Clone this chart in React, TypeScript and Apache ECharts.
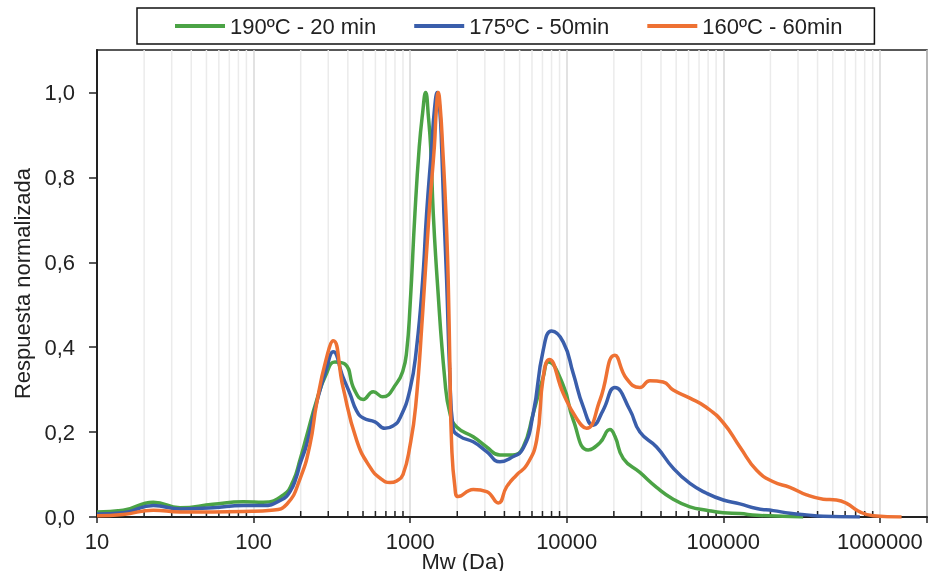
import React, { useEffect, useRef } from "react";
import * as echarts from "echarts";

const seriesNames = ["190ºC - 20 min", "175ºC - 50min", "160ºC - 60min"];
const seriesColors = ["#4ba345", "#3a5eab", "#ee7133"];

const greenMw = [10, 14.7, 22.9, 33.9, 55, 86, 115, 155, 179, 198, 218, 253, 290, 331, 384, 440, 502, 581, 667, 820, 900, 950, 1000, 1073, 1143, 1200, 1256, 1310, 1352, 1405, 1489, 1667, 1795, 1981, 2529, 3081, 3744, 4530, 5272, 6109, 7079, 7621, 9506, 11010, 13710, 16290, 18880, 20320, 22960, 29330, 37490, 47860, 61220, 78180, 100000, 127700, 163300, 323800];
const greenVal = [0.012, 0.016, 0.035, 0.022, 0.03, 0.036, 0.035, 0.052, 0.085, 0.135, 0.19, 0.275, 0.335, 0.365, 0.36, 0.3, 0.277, 0.295, 0.283, 0.315, 0.345, 0.39, 0.5, 0.715, 0.871, 0.95, 1.0, 0.94, 0.871, 0.715, 0.558, 0.322, 0.244, 0.212, 0.189, 0.165, 0.146, 0.146, 0.165, 0.244, 0.33, 0.365, 0.31, 0.228, 0.158, 0.175, 0.206, 0.19, 0.138, 0.105, 0.07, 0.042, 0.024, 0.016, 0.01, 0.008, 0.004, 0];

const blueMw = [10, 14.7, 22.9, 33.9, 55, 86, 115, 150, 171, 188, 198, 218, 253, 290, 323, 372, 413, 455, 502, 596, 690, 780, 861, 997, 1100, 1202, 1274, 1372, 1430, 1490, 1545, 1589, 1643, 1710, 1790, 1880, 2080, 2529, 3081, 3744, 4335, 5272, 6109, 7079, 8013, 9506, 11010, 12740, 14760, 17100, 20320, 25330, 29330, 37490, 47860, 61220, 78180, 100000, 127700, 163300, 208500, 266300, 340400, 434700, 745000];
const blueVal = [0.007, 0.01, 0.027, 0.019, 0.022, 0.027, 0.027, 0.04, 0.06, 0.095, 0.125, 0.17, 0.27, 0.345, 0.389, 0.33, 0.29, 0.25, 0.233, 0.224, 0.209, 0.215, 0.233, 0.3, 0.4, 0.558, 0.715, 0.871, 0.96, 1.0, 0.96, 0.871, 0.715, 0.558, 0.34, 0.21, 0.19, 0.177, 0.154, 0.13, 0.138, 0.162, 0.244, 0.393, 0.438, 0.412, 0.338, 0.26, 0.216, 0.252, 0.305, 0.252, 0.2, 0.165, 0.115, 0.079, 0.056, 0.04, 0.031, 0.02, 0.015, 0.009, 0.005, 0.002, 0];

const orangeMw = [10, 14.7, 22.9, 33.9, 55, 86, 130, 163, 198, 229, 253, 290, 323, 372, 455, 553, 650, 743, 820, 900, 1000, 1084, 1202, 1324, 1427, 1470, 1512, 1560, 1613, 1693, 1750, 1795, 1841, 1932, 2028, 2529, 3081, 3654, 4130, 4786, 5546, 6426, 7079, 7727, 9506, 11560, 13390, 16290, 20320, 24110, 29330, 33960, 41320, 47860, 61220, 78180, 100000, 127700, 163300, 208500, 266300, 340400, 434700, 528000, 613000, 745000, 906000, 1376000];
const orangeVal = [0.003, 0.006, 0.016, 0.012, 0.012, 0.013, 0.016, 0.03, 0.09, 0.17, 0.268, 0.37, 0.415, 0.307, 0.181, 0.118, 0.09, 0.081, 0.085, 0.1, 0.17, 0.26, 0.48, 0.72, 0.871, 0.96, 1.0, 0.96, 0.871, 0.715, 0.558, 0.35, 0.17, 0.07, 0.048, 0.065, 0.06, 0.033, 0.071, 0.099, 0.122, 0.181, 0.33, 0.371, 0.291, 0.232, 0.209, 0.275, 0.381, 0.326, 0.305, 0.321, 0.318, 0.299, 0.28, 0.258, 0.222, 0.165, 0.11, 0.083, 0.07, 0.052, 0.042, 0.04, 0.032, 0.012, 0.003, 0];

const yTickValues = [0, 0.2, 0.4, 0.6, 0.8, 1.0];
const decades = [10, 100, 1000, 10000, 100000];
const minorMultipliers = [2, 3, 4, 5, 6, 7, 8, 9];

const FONT = "'Liberation Sans', Arial, Helvetica, sans-serif";

function zip(xs: number[], ys: number[]) {
  return xs.map((x, i) => [x, ys[i]]);
}

export default function App() {
  const ref = useRef<HTMLDivElement>(null);
  useEffect(() => {
    if (!ref.current) return;
    const chart = echarts.init(ref.current, null, { renderer: "svg" });
    const minorValues: number[] = [];
    decades.forEach((d) => minorMultipliers.forEach((m) => minorValues.push(d * m)));
    const lineData = [zip(greenMw, greenVal), zip(blueMw, blueVal), zip(orangeMw, orangeVal)];

    const option: any = {
      animation: false,
      textStyle: { fontFamily: FONT },
      grid: {
        left: 97,
        right: 2,
        top: 50,
        bottom: 54,
        show: true,
        outerBoundsMode: "none",
        containLabel: false,
        borderColor: "#222",
        borderWidth: 1.5,
        backgroundColor: "transparent",
      },
      legend: {
        data: seriesNames.map((n) => ({ name: n, icon: "rect" })),
        left: 137,
        top: 8,
        padding: [7, 32, 7, 38],
        itemGap: 38,
        itemWidth: 50,
        itemHeight: 4,
        borderColor: "#111",
        borderWidth: 1.5,
        textStyle: { fontSize: 22, color: "#222", fontFamily: FONT, padding: [0, 0, 0, 0] },
      },
      xAxis: {
        type: "log",
        logBase: 10,
        min: 10,
        max: 2000000,
        name: "Mw (Da)",
        nameLocation: "middle",
        nameGap: 33,
        nameMoveOverlap: false,
        nameTextStyle: { fontSize: 22, color: "#222", fontFamily: FONT, padding: [0, 98, 0, 0], verticalAlign: "top" },
        axisLine: { show: true, lineStyle: { color: "#222", width: 2 } },
        axisTick: { show: true, length: 6, lineStyle: { color: "#222", width: 1.5 } },
        axisLabel: {
          fontSize: 22,
          color: "#222",
          margin: 13,
          fontFamily: FONT,
          formatter: (v: number) => (v > 1500000 ? "" : String(Math.round(v))),
        },
        splitLine: { show: true, lineStyle: { color: "#d9d9d9", width: 1.5 } },
      },
      yAxis: {
        type: "value",
        min: 0,
        max: 1.1,
        interval: 0.2,
        name: "Respuesta normalizada",
        nameLocation: "middle",
        nameGap: 64,
        nameTextStyle: { fontSize: 22, color: "#222", fontFamily: FONT },
        axisLine: { show: true, lineStyle: { color: "#222", width: 2 } },
        axisTick: { show: true, length: 8, customValues: yTickValues, lineStyle: { color: "#222", width: 1.5 } },
        axisLabel: {
          fontSize: 22,
          color: "#222",
          margin: 22,
          fontFamily: FONT,
          customValues: yTickValues,
          formatter: (v: number) => (v > 1.05 ? "" : v.toFixed(1).replace(".", ",")),
        },
        splitLine: { show: false },
      },
      series: [
        {
          type: "custom",
          name: "minorGrid",
          silent: true,
          z: 0,
          data: minorValues.map((v) => [v, 0]),
          renderItem: (params: any, api: any) => {
            const v = api.value(0);
            const b = api.coord([v, 0]);
            const t = api.coord([v, 1.1]);
            return {
              type: "group",
              children: [
                { type: "line", shape: { x1: b[0], y1: t[1], x2: b[0], y2: b[1] }, style: { stroke: "#ebebeb", lineWidth: 1.5 } },
                { type: "line", shape: { x1: b[0], y1: b[1], x2: b[0], y2: b[1] - 6 }, style: { stroke: "#222", lineWidth: 1.5 } },
              ],
            };
          },
        },
        ...seriesNames.map((name, i) => ({
          type: "line",
          name,
          data: lineData[i],
          symbol: "none",
          showSymbol: false,
          smooth: 0.5,
          z: 3 + i,
          color: seriesColors[i],
          itemStyle: { color: seriesColors[i] },
          lineStyle: { color: seriesColors[i], width: 3.5 },
        })),
      ],
    };
    chart.setOption(option);
    return () => chart.dispose();
  }, []);
  return <div ref={ref} style={{ position: "fixed", left: 0, top: 0, width: 929, height: 571 }} />;
}
